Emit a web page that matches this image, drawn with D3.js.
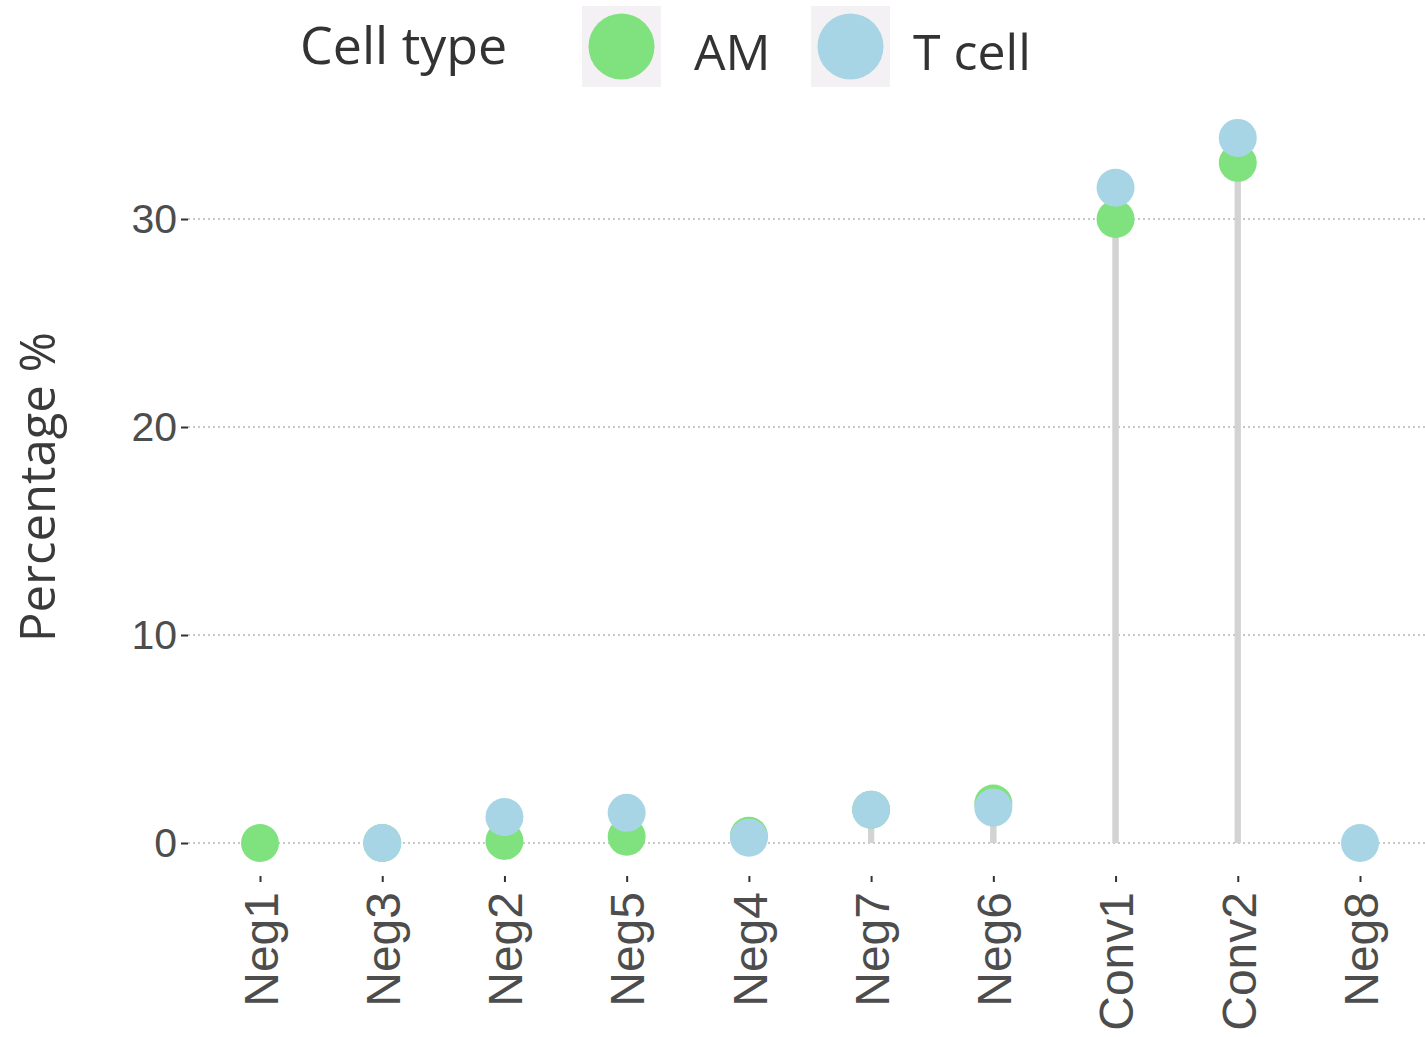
<!DOCTYPE html>
<html>
<head>
<meta charset="utf-8">
<script src="https://cdn.jsdelivr.net/npm/d3@7"></script>
<style>
  html, body { margin: 0; padding: 0; background: #ffffff; }
  svg { display: block; }
</style>
</head>
<body>
<svg id="chart" width="1425" height="1037"></svg>
<script>
// ---- data ----
const categories = ["Neg1", "Neg3", "Neg2", "Neg5", "Neg4", "Neg7", "Neg6", "Conv1", "Conv2", "Neg8"];
const amValues    = [0,      0,      0.1,    0.3,    0.35,   1.6,    1.9,    30.0,    32.7,    null];
const tcellValues = [null,   0,      1.25,   1.45,   0.25,   1.6,    1.7,    31.5,    33.9,    0];
const seriesNames = ["AM", "T cell"];
const seriesColors = ["#80e27f", "#a8d5e5"];
const yTicks = [0, 10, 20, 30];
const legendTitle = "Cell type";
const yTitle = "Percentage %";

// ---- layout ----
const svg = d3.select("#chart");
const x = d3.scalePoint().domain(categories).range([260, 1360]);
const y = d3.scaleLinear().domain([0, 30]).range([843, 219]);
const panelLeft = 188, panelRight = 1425;

const series = [amValues, tcellValues].map((vals, si) => ({
  name: seriesNames[si],
  color: seriesColors[si],
  points: categories.map((c, i) => ({ cat: c, v: vals[i] })).filter(d => d.v !== null)
}));

// grid lines
svg.append("g").selectAll("line").data(yTicks).join("line")
  .attr("x1", panelLeft).attr("x2", panelRight)
  .attr("y1", d => y(d)).attr("y2", d => y(d))
  .attr("stroke", "#c8c8c8").attr("stroke-width", 2)
  .attr("stroke-dasharray", "2,3");

// y axis
const yAxis = svg.append("g").attr("transform", `translate(${panelLeft},0)`)
  .call(d3.axisLeft(y).tickValues(yTicks).tickSize(7).tickPadding(4).tickFormat(d3.format("d")));
yAxis.select(".domain").remove();
yAxis.selectAll(".tick line").attr("stroke", "#333").attr("stroke-width", 2);
yAxis.selectAll(".tick text")
  .attr("fill", "#4d4d4d")
  .style("font-family", "'Liberation Sans', Arial, sans-serif")
  .style("font-size", "41px");

// x axis
const xAxis = svg.append("g").attr("transform", `translate(0,876)`)
  .call(d3.axisBottom(x).tickSize(6).tickPadding(6));
xAxis.select(".domain").remove();
xAxis.selectAll(".tick line").attr("stroke", "#333").attr("stroke-width", 2);
xAxis.selectAll(".tick text")
  .attr("fill", "#4d4d4d")
  .style("font-family", "'Liberation Sans', Arial, sans-serif")
  .style("font-size", "48px")
  .attr("text-anchor", "end")
  .attr("dy", "0.36em")
  .attr("transform", "rotate(-90)")
  .attr("x", -16)
  .attr("y", 0);

// stems
series.forEach(s => {
  svg.append("g").selectAll("line").data(s.points).join("line")
    .attr("x1", d => x(d.cat)).attr("x2", d => x(d.cat))
    .attr("y1", y(0)).attr("y2", d => y(d.v))
    .attr("stroke", "#d3d3d3").attr("stroke-width", 6);
});

// points
series.forEach(s => {
  svg.append("g").selectAll("circle").data(s.points).join("circle")
    .attr("cx", d => x(d.cat)).attr("cy", d => y(d.v))
    .attr("r", 19).attr("fill", s.color);
});

// y title
svg.append("text")
  .attr("transform", "translate(55,487) rotate(-90)")
  .attr("text-anchor", "middle")
  .attr("fill", "#3a3a3a")
  .style("font-family", "'Open Sans', sans-serif")
  .style("font-size", "49px")
  .text(yTitle);

// legend
const legend = svg.append("g");
legend.append("text")
  .attr("x", 300).attr("y", 64)
  .attr("fill", "#333")
  .style("font-family", "'Open Sans', sans-serif")
  .style("font-size", "52px")
  .text(legendTitle);

const keyX = [582, 811];
const labelX = [694, 913];
seriesNames.forEach((n, i) => {
  legend.append("rect")
    .attr("x", keyX[i]).attr("y", 6).attr("width", 79).attr("height", 81)
    .attr("fill", "#f3f1f3");
  legend.append("circle")
    .attr("cx", keyX[i] + 39.5).attr("cy", 46.5).attr("r", 33)
    .attr("fill", seriesColors[i]);
  legend.append("text")
    .attr("x", labelX[i]).attr("y", 70)
    .attr("fill", "#333")
    .style("font-family", "'Open Sans', sans-serif")
    .style("font-size", "50px")
    .text(n);
});
</script>
</body>
</html>
